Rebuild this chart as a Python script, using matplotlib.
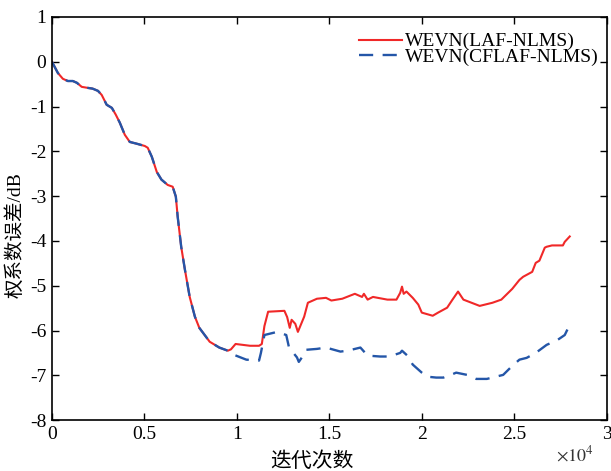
import matplotlib
matplotlib.use("Agg")
import matplotlib.pyplot as plt

# iterations in units of 1e4, error in dB
x_common = [0, 0.032, 0.059, 0.086, 0.113, 0.135, 0.161, 0.189, 0.220, 0.249,
            0.269, 0.296, 0.324, 0.345, 0.367, 0.394, 0.421, 0.459, 0.502, 0.518,
            0.540, 0.567, 0.592, 0.626, 0.653, 0.670, 0.680, 0.699, 0.719, 0.745,
            0.773, 0.797, 0.853, 0.905, 0.951]
y_common = [0, -0.25, -0.38, -0.43, -0.43, -0.47, -0.56, -0.58, -0.60, -0.65,
            -0.74, -0.96, -1.03, -1.18, -1.36, -1.63, -1.79, -1.83, -1.88, -1.92,
            -2.12, -2.46, -2.63, -2.75, -2.79, -3.01, -3.46, -4.13, -4.64, -5.25,
            -5.69, -5.94, -6.25, -6.38, -6.45]

x_laf_tail = [0.968, 0.993, 1.071, 1.120, 1.135, 1.149, 1.169, 1.257, 1.272, 1.286,
              1.296, 1.316, 1.330, 1.350, 1.364, 1.384, 1.433, 1.482, 1.511, 1.570,
              1.638, 1.677, 1.687, 1.707, 1.736, 1.814, 1.863, 1.883, 1.893, 1.902,
              1.917, 1.951, 1.981, 2.000, 2.059, 2.088, 2.137, 2.166, 2.196, 2.225,
              2.313, 2.382, 2.430, 2.489, 2.528, 2.548, 2.597, 2.616, 2.636, 2.665,
              2.675, 2.704, 2.763, 2.773, 2.800]
y_laf_tail = [-6.42, -6.30, -6.34, -6.34, -6.30, -5.90, -5.58, -5.56, -5.70, -5.94,
              -5.76, -5.85, -6.03, -5.83, -5.69, -5.38, -5.29, -5.27, -5.33, -5.29,
              -5.18, -5.25, -5.18, -5.31, -5.25, -5.31, -5.31, -5.16, -5.02, -5.18,
              -5.13, -5.27, -5.42, -5.60, -5.67, -5.60, -5.49, -5.31, -5.13, -5.31,
              -5.45, -5.38, -5.31, -5.07, -4.87, -4.80, -4.69, -4.49, -4.44, -4.15,
              -4.13, -4.10, -4.10, -4.02, -3.90]

x_cflaf_tail = [0.968, 0.983, 1.051, 1.120, 1.130, 1.149, 1.218, 1.267, 1.281, 1.296,
                1.325, 1.335, 1.355, 1.374, 1.433, 1.482, 1.560, 1.599, 1.668, 1.707,
                1.775, 1.824, 1.883, 1.893, 1.922, 1.951, 2.000, 2.029, 2.078, 2.117,
                2.157, 2.186, 2.245, 2.294, 2.352, 2.401, 2.440, 2.489, 2.528, 2.567,
                2.616, 2.675, 2.734, 2.773, 2.800]
y_cflaf_tail = [-6.48, -6.54, -6.65, -6.67, -6.50, -6.10, -6.03, -6.10, -6.36, -6.45,
                -6.60, -6.70, -6.58, -6.43, -6.41, -6.38, -6.47, -6.45, -6.38, -6.56,
                -6.58, -6.58, -6.50, -6.45, -6.56, -6.76, -6.94, -7.03, -7.05, -7.05,
                -6.99, -6.94, -6.99, -7.08, -7.08, -7.03, -6.99, -6.79, -6.65, -6.61,
                -6.50, -6.32, -6.21, -6.10, -5.87]

labels = ['WEVN(LAF-NLMS)', 'WEVN(CFLAF-NLMS)']
x_ticks = [0, 0.5, 1, 1.5, 2, 2.5, 3]
x_tick_labels = ['0', '0.5', '1', '1.5', '2', '2.5', '3']
y_ticks = [1, 0, -1, -2, -3, -4, -5, -6, -7, -8]

plt.rcParams['font.family'] = ['Liberation Serif', 'Noto Sans CJK SC']
plt.rcParams['mathtext.fontset'] = 'stix'
plt.rcParams['axes.unicode_minus'] = False

fig = plt.figure(figsize=(6.11, 4.71), dpi=100)
ax = fig.add_axes([0.085, 0.108, 0.908, 0.856])

ax.plot(x_common + x_laf_tail, y_common + y_laf_tail, color='#f02828', lw=1.5,
        label=labels[0])
ax.plot(x_common + x_cflaf_tail, y_common + y_cflaf_tail, color='#2456a8', lw=1.7,
        ls=(0, (6, 4)), label=labels[1])

ax.set_xlim(0, 3)
ax.set_ylim(-8, 1)
ax.set_xticks(x_ticks)
ax.set_xticklabels(x_tick_labels)
ax.set_yticks(y_ticks)
ax.tick_params(direction='in', top=True, right=True, length=5, width=1,
               labelsize=14, pad=4)
for s in ax.spines.values():
    s.set_linewidth(1.2)

ax.set_xlabel('迭代次数', fontsize=15)
ax.set_ylabel('权系数误差/dB', fontsize=14)
ax.xaxis.set_label_coords(0.468, -0.079)
ax.yaxis.set_label_coords(-0.05, 0.459)

fig.text(0.941, 0.034, r'$\times10^4$', fontsize=13, ha='center', va='center',
         color='#333333')

ax.legend(loc='upper right', bbox_to_anchor=(0.999, 0.98), frameon=False,
          fontsize=14, handlelength=2.2, handletextpad=0.15, labelspacing=-0.1,
          borderaxespad=0)

fig.savefig('out.png', dpi=100)
